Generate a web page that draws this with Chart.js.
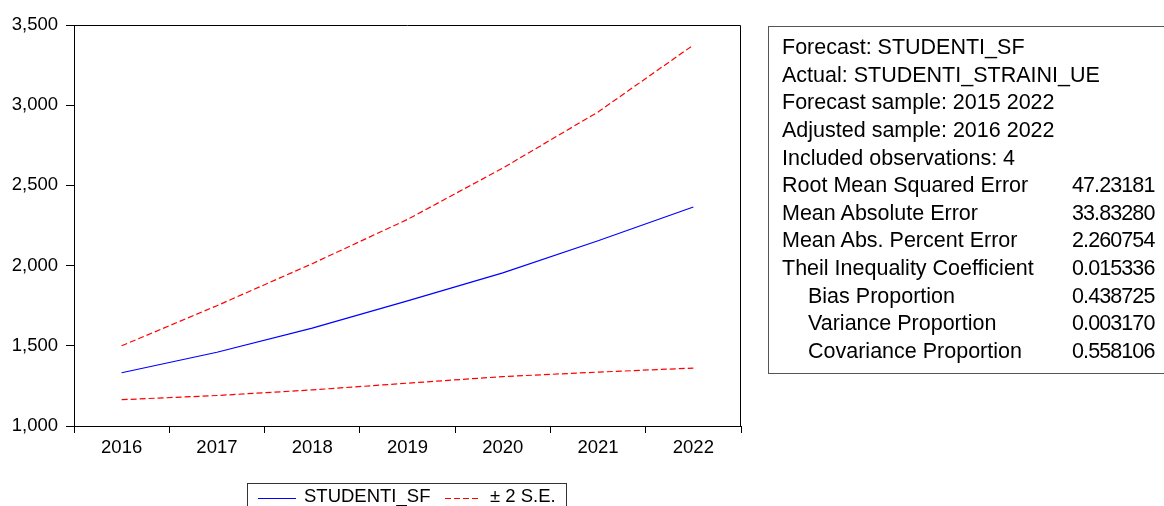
<!DOCTYPE html>
<html>
<head>
<meta charset="utf-8">
<script src="https://cdn.jsdelivr.net/npm/chart.js@4.4.1/dist/chart.umd.min.js"></script>
<style>
  html, body { margin:0; padding:0; background:#fff; }
  #wrap { position:relative; width:1164px; height:506px; overflow:hidden; font-family:"Liberation Sans", Arial, sans-serif; color:#000; }
  #c { position:absolute; left:0; top:0; }
  #legend { position:absolute; left:247px; top:483px; width:320px; height:40px; border:1px solid #333; box-sizing:border-box; font-size:18.5px; }
  #legend .item { position:absolute; top:0; white-space:nowrap; line-height:1; }
  #legend svg { display:block; }
  #stats { position:absolute; left:768px; top:26px; width:420px; height:348px; border:1px solid #555; box-sizing:border-box; font-size:21.5px; }
  #stats .row { position:absolute; left:13px; height:27.6px; line-height:27.6px; white-space:nowrap; }
  #stats .val { position:absolute; left:303px; height:27.6px; line-height:27.6px; white-space:nowrap; letter-spacing:-0.9px; }
</style>
</head>
<body>
<div id="wrap">
  <canvas id="c" width="1164" height="506"></canvas>
  <div id="legend"></div>
  <div id="stats"></div>
</div>
<script>
const categories = ["2016", "2017", "2018", "2019", "2020", "2021", "2022"];
const forecast = [1332, 1460, 1610, 1780, 1955, 2155, 2365];
const upperBand = [1500, 1750, 2012, 2288, 2608, 2958, 3375];
const lowerBand = [1164, 1190, 1225, 1267, 1308, 1336, 1361];
const yTicks = [1000, 1500, 2000, 2500, 3000, 3500];
const seriesNames = ["STUDENTI_SF", "\u00B1 2 S.E."];
const statLabels = [
  "Forecast: STUDENTI_SF",
  "Actual: STUDENTI_STRAINI_UE",
  "Forecast sample: 2015 2022",
  "Adjusted sample: 2016 2022",
  "Included observations: 4",
  "Root Mean Squared Error",
  "Mean Absolute Error",
  "Mean Abs. Percent Error",
  "Theil Inequality Coefficient",
  "Bias Proportion",
  "Variance Proportion",
  "Covariance Proportion"
];
const statValues = ["", "", "", "", "", "47.23181", "33.83280", "2.260754", "0.015336", "0.438725", "0.003170", "0.558106"];
const statIndented = [false, false, false, false, false, false, false, false, false, true, true, true];

const FONT = '"Liberation Sans", Arial, sans-serif';
const BLUE = 'rgb(0,0,255)';
const RED = 'rgb(255,0,0)';
const RED_DASH = [6, 3];

const framePlugin = {
  id: 'frame',
  afterDraw(chart) {
    const a = chart.chartArea, ctx = chart.ctx;
    ctx.save();
    ctx.strokeStyle = '#000';
    ctx.lineWidth = 1;
    ctx.beginPath();
    const L = Math.round(a.left) + 0.5, R = Math.round(a.right) - 0.5, T = Math.round(a.top) + 0.5;
    ctx.moveTo(L, T); ctx.lineTo(R, T); ctx.lineTo(R, Math.round(a.bottom));
    ctx.stroke();
    ctx.restore();
  }
};

new Chart(document.getElementById('c'), {
  type: 'line',
  data: {
    labels: categories,
    datasets: [
      { label: seriesNames[0], data: forecast, borderColor: BLUE, borderWidth: 1.2, pointRadius: 0, tension: 0, fill: false },
      { label: seriesNames[1], data: upperBand, borderColor: RED, borderWidth: 1.2, borderDash: RED_DASH, pointRadius: 0, tension: 0, fill: false },
      { label: seriesNames[1] + ' lower', data: lowerBand, borderColor: RED, borderWidth: 1.2, borderDash: RED_DASH, pointRadius: 0, tension: 0, fill: false }
    ]
  },
  options: {
    responsive: false,
    animation: false,
    layout: { padding: { left: 0, top: 25, right: 1164 - 741, bottom: 40 } },
    plugins: { legend: { display: false }, tooltip: { enabled: false } },
    scales: {
      x: {
        offset: true,
        grid: { offset: true, drawOnChartArea: false, drawTicks: true, tickLength: 7, color: '#000', lineWidth: 1 },
        border: { color: '#000', width: 1 },
        ticks: { color: '#000', font: { size: 18.5, family: FONT }, padding: 4, maxRotation: 0, autoSkip: false },
        afterFit(s) { s.height = 40; }
      },
      y: {
        min: yTicks[0],
        max: yTicks[yTicks.length - 1],
        afterBuildTicks(s) { s.ticks = yTicks.map(v => ({ value: v })); },
        grid: { drawOnChartArea: false, drawTicks: true, tickLength: 8, color: '#000', lineWidth: 1 },
        border: { color: '#000', width: 1 },
        ticks: { color: '#000', font: { size: 18.5, family: FONT }, padding: 8,
          callback: v => Number(v).toLocaleString('en-US') },
        afterFit(s) { s.width = 74; }
      }
    }
  },
  plugins: [framePlugin]
});

// Legend (HTML)
(function () {
  const lg = document.getElementById('legend');
  const mk = (x, y, html) => { const d = document.createElement('div'); d.className = 'item'; d.style.left = x + 'px'; d.style.top = y + 'px'; d.innerHTML = html; lg.appendChild(d); };
  mk(10, 13, '<svg width="38" height="3"><line x1="0" y1="1.5" x2="38" y2="1.5" stroke="' + BLUE + '" stroke-width="1.2"/></svg>');
  mk(56, 3, seriesNames[0]);
  mk(197, 13, '<svg width="36" height="3"><line x1="0" y1="1.5" x2="36" y2="1.5" stroke="' + RED + '" stroke-width="1.2" stroke-dasharray="' + RED_DASH.join(',') + '"/></svg>');
  mk(242, 3, seriesNames[1]);
})();

// Statistics box (HTML)
(function () {
  const st = document.getElementById('stats');
  statLabels.forEach((t, i) => {
    const top = 7 + i * 27.64;
    const r = document.createElement('div');
    r.className = 'row';
    r.style.top = top + 'px';
    if (statIndented[i]) r.style.left = '39px';
    r.textContent = t;
    st.appendChild(r);
    if (statValues[i]) {
      const v = document.createElement('div');
      v.className = 'val';
      v.style.top = top + 'px';
      v.textContent = statValues[i];
      st.appendChild(v);
    }
  });
})();
</script>
</body>
</html>
